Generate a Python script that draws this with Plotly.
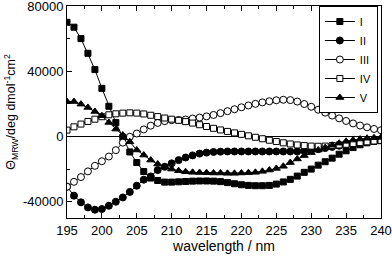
import plotly.graph_objects as go

wavelength = [195, 196, 197, 198, 199, 200, 201, 202, 203, 204, 205, 206, 207, 208, 209, 210,
              211, 212, 213, 214, 215, 216, 217, 218, 219, 220, 221, 222, 223, 224, 225, 226,
              227, 228, 229, 230, 231, 232, 233, 234, 235, 236, 237, 238, 239, 240]

series_I = [70000, 67000, 60000, 51000, 41000, 29500, 18500, 8500, -500, -9500, -16000, -21500,
            -25500, -27000, -28000, -28000, -27800, -27600, -27400, -27300, -27300, -27400, -27700,
            -28300, -29000, -29600, -30000, -30200, -30200, -30000, -29200, -27900, -26300, -24300,
            -22000, -20000, -17600, -15500, -13300, -10900, -8800, -6800, -5100, -3900, -3000, -2600]

series_II = [-30800, -36300, -40400, -43500, -44900, -44500, -42500, -40000, -37400, -34000, -30200,
             -26500, -24500, -20600, -18600, -16500, -14500, -12900, -11600, -10500, -9900, -9500,
             -9300, -9200, -9200, -9200, -9200, -9200, -9200, -9200, -9200, -9200, -9200, -9200,
             -8900, -8400, -7800, -7100, -6400, -5700, -5000, -4300, -3700, -3100, -2600, -2100]

series_III = [-30800, -27800, -24900, -21400, -18000, -15200, -12300, -8400, -3800, -200, 1800, 4300,
              6600, 8300, 9400, 10000, 10100, 10400, 11000, 11600, 12300, 13200, 14300, 15500, 16700,
              17900, 19000, 20000, 20900, 21600, 22200, 22500, 22300, 21400, 19900, 18200, 16400,
              14600, 12800, 11100, 9500, 8000, 6700, 5600, 4600, 3800]

series_IV = [3900, 5900, 7600, 9200, 10600, 12100, 13300, 13900, 14300, 14500, 14300, 13800, 13000,
             12200, 11300, 10600, 9900, 9100, 8200, 7200, 6100, 5000, 4000, 3100, 2200, 1300, 400,
             -500, -1400, -2300, -3100, -3900, -4600, -5200, -5600, -5900, -6000, -5900, -5600,
             -5200, -4800, -4300, -3800, -3300, -2800, -2400]

series_V = [21400, 21400, 19800, 17800, 15300, 12700, 8600, 4500, 900, -3300, -8300, -11400, -14500,
            -16900, -18600, -20000, -21000, -21600, -22000, -22100, -22200, -22400, -22400, -22600,
            -22600, -22400, -22200, -22000, -21400, -20600, -19600, -18300, -16000, -13800, -11700,
            -9900, -8300, -6800, -5400, -4100, -3000, -2200, -1600, -1100, -800, -600]

names = ["I", "II", "III", "IV", "V"]
x_ticks = [195, 200, 205, 210, 215, 220, 225, 230, 235, 240]
y_ticks = [-40000, 0, 40000, 80000]
y_ticktext = ["-40000", "0", "40000", "80000"]

FONT = "Arial, Liberation Sans, sans-serif"

styles = [
    dict(symbol="square", color="black", size=6),
    dict(symbol="circle", color="black", size=7),
    dict(symbol="circle", color="white", size=7),
    dict(symbol="square", color="white", size=6),
    dict(symbol="triangle-up", color="black", size=7),
]
data = [series_I, series_II, series_III, series_IV, series_V]

fig = go.Figure()
for name, ys, st in zip(names, data, styles):
    fig.add_trace(go.Scatter(
        x=wavelength, y=ys, name=name, mode="lines+markers",
        line=dict(color="black", width=1),
        marker=dict(symbol=st["symbol"], size=st["size"], color=st["color"],
                    line=dict(color="black", width=1)),
    ))

fig.update_layout(
    width=392, height=260,
    margin=dict(l=67, r=11, t=6, b=42),
    paper_bgcolor="white", plot_bgcolor="white",
    font=dict(family=FONT, size=13, color="black"),
    showlegend=True,
    legend=dict(
        x=0.99, y=1.0, xanchor="right", yanchor="top",
        bordercolor="black", borderwidth=1, bgcolor="white",
        font=dict(family=FONT, size=11, color="black"),
        itemwidth=30, tracegroupgap=0,
    ),
)

fig.update_xaxes(
    range=[195, 240], tickvals=x_ticks,
    showgrid=False, zeroline=False, automargin=False,
    showline=True, linecolor="black", linewidth=1, mirror="ticks",
    ticks="inside", ticklen=5, tickcolor="black", ticklabeloverflow="allow",
    minor=dict(dtick=2.5, tick0=195, ticks="inside", ticklen=3, tickcolor="black", showgrid=False),
    tickfont=dict(family=FONT, size=13),
    title=dict(text="wavelength / nm", font=dict(family=FONT, size=14), standoff=3),
)

fig.update_yaxes(
    range=[-50000, 80000], tickvals=y_ticks, ticktext=y_ticktext,
    showgrid=False, automargin=False,
    zeroline=True, zerolinecolor="black", zerolinewidth=1,
    showline=True, linecolor="black", linewidth=1, mirror=True,
    ticks="inside", ticklen=5, tickcolor="black", ticklabeloverflow="allow",
    minor=dict(dtick=20000, tick0=0, ticks="inside", ticklen=3, tickcolor="black", showgrid=False),
    tickfont=dict(family=FONT, size=13),
    title=dict(text="Θ<sub>MRW</sub>/deg dmol<sup>-1</sup>cm<sup>2</sup>",
               font=dict(family=FONT, size=12.5), standoff=4),
)

fig.write_html("out.html", config={"displayModeBar": False},
               post_script="document.body.style.margin='0';")
